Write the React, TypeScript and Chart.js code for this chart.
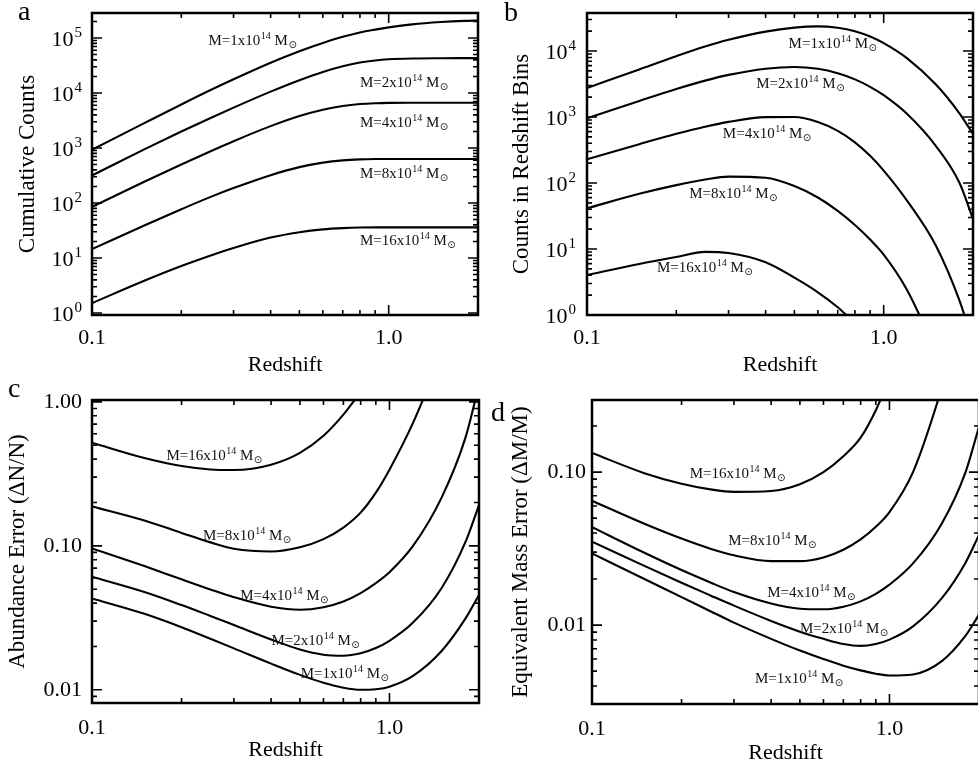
import React, { useEffect, useRef } from 'react';
import { Chart, registerables } from 'chart.js';

Chart.register(...registerables);

const SERIF = '"Liberation Serif", "Times New Roman", Times, serif';

// ---------- shared data ----------
const redshift = [0.1, 0.15, 0.2, 0.25, 0.3, 0.4, 0.5, 0.6, 0.7, 0.8, 0.9, 1.0, 1.2, 1.5, 1.8, 2.0];
const massFactors = ['1', '2', '4', '8', '16'];
const xTickValues = [0.1, 1.0];
const xTickLabels = ['0.1', '1.0'];

// ---------- panel a: cumulative counts ----------
const cumM1 = [930, 2830, 6190, 11200, 17800, 35600, 57700, 81500, 105000, 126000, 142000, 156000, 177000, 195000, 205000, 208000];
const cumM2 = [316, 944, 1995, 3480, 5420, 10590, 17100, 24200, 30700, 35800, 39100, 41000, 42400, 42900, 43000, 43000];
const cumM4 = [85, 244, 501, 865, 1330, 2500, 3820, 4980, 5810, 6300, 6520, 6610, 6640, 6640, 6640, 6640];
const cumM8 = [14.5, 39, 77, 128, 187, 321, 449, 543, 597, 621, 630, 632, 632, 632, 632, 632];
const cumM16 = [1.51, 3.85, 7.14, 11.0, 15.2, 23.5, 29.5, 33.2, 35.0, 35.8, 36, 36, 36, 36, 36, 36];
const cumYTicks = [1, 10, 100, 1000, 10000, 100000];
const cumYExponents = ['0', '1', '2', '3', '4', '5'];
const cumLabelZ = [0.247, 0.8, 0.8, 0.8, 0.8];
const cumLabelN = [92000, 15800, 2960, 351, 21];

// ---------- panel b: counts in redshift bins ----------
const binM1 = [2750, 5270, 8360, 11700, 14800, 19700, 22600, 23600, 22500, 20000, 16600, 13200, 7760, 3110, 1140, 557];
const binM2 = [955, 1750, 2660, 3560, 4350, 5400, 5740, 5380, 4610, 3720, 2870, 2140, 1110, 363, 101, 28.6];
const binM4 = [229, 388, 556, 714, 845, 995, 1000, 841, 618, 414, 258, 154, 53.6, 11.2, 1.66, 0.38];
const binM8 = [41.4, 68.7, 92.9, 113, 125, 120, 89.9, 60.3, 37.9, 23.1, 13.9, 8.22, 2.38, 0.285, null, null];
const binM16 = [4.04, 5.93, 7.57, 9.05, 8.7, 6.3, 3.68, 2.21, 1.31, 0.746, null, null, null, null, null, null];
const binYTicks = [1, 10, 100, 1000, 10000];
const binYExponents = ['0', '1', '2', '3', '4'];
const binLabelZ = [0.478, 0.372, 0.287, 0.221, 0.172];
const binLabelN = [13200, 3270, 573, 70.5, 5.34];

// ---------- panel c: abundance error ----------
const errM1 = [0.0431, 0.0337, 0.0272, 0.0226, 0.0194, 0.0152, 0.0127, 0.0112, 0.01035, 0.01, 0.0101, 0.01052, 0.0125, 0.0187, 0.0312, 0.0456];
const errM2 = [0.061, 0.0478, 0.0388, 0.0326, 0.0282, 0.0224, 0.01905, 0.01754, 0.01726, 0.01795, 0.0195, 0.0219, 0.0293, 0.0512, 0.106, 0.192];
const errM4 = [0.096, 0.0723, 0.0585, 0.0498, 0.044, 0.0378, 0.036, 0.0375, 0.0411, 0.047, 0.0551, 0.0656, 0.0998, 0.218, 0.562, 1.31];
const errM8 = [0.188, 0.15, 0.123, 0.1057, 0.0955, 0.0914, 0.0977, 0.1114, 0.134, 0.17, 0.234, 0.338, 0.714, 2.18, null, null];
const errM16 = [0.52, 0.407, 0.358, 0.339, 0.336, 0.366, 0.442, 0.581, 0.815, 1.17, null, null, null, null, null, null];
const errYTicks = [0.01, 0.1, 1];
const errYLabels = ['0.01', '0.10', '1.00'];
const errLabelZ = [0.503, 0.401, 0.315, 0.236, 0.178];
const errLabelN = [0.0131, 0.0222, 0.0457, 0.119, 0.428];

// ---------- panel d: equivalent mass error ----------
const dmM1 = [0.0294, 0.02, 0.01524, 0.01233, 0.01038, 0.00813, 0.00682, 0.006, 0.00543, 0.00506, 0.00481, 0.00468, 0.00476, 0.00582, 0.0085, 0.0117];
const dmM2 = [0.0351, 0.02438, 0.01892, 0.01563, 0.0134, 0.01064, 0.00906, 0.00813, 0.00752, 0.00731, 0.00753, 0.00804, 0.00982, 0.015, 0.0255, 0.0389];
const dmM4 = [0.0437, 0.0297, 0.0229, 0.019, 0.01644, 0.01384, 0.0128, 0.01268, 0.01318, 0.01429, 0.016, 0.01837, 0.0253, 0.0462, 0.0993, 0.198];
const dmM8 = [0.065, 0.046, 0.0368, 0.0316, 0.0286, 0.0262, 0.0262, 0.0277, 0.0311, 0.0363, 0.0439, 0.0548, 0.1, 0.355, 1.27, null];
const dmM16 = [0.1334, 0.0984, 0.0839, 0.0771, 0.0743, 0.0753, 0.0834, 0.1, 0.127, 0.168, 0.254, 0.409, null, null, null, null];
const dmYTicks = [0.01, 0.1];
const dmYLabels = ['0.01', '0.10'];
const dmLabelZ = [0.353, 0.5, 0.388, 0.287, 0.213];
const dmLabelN = [0.00451, 0.00955, 0.0164, 0.036, 0.0985];

type Spec = {
  id: string;
  letter: string;
  left: number; top: number; width: number; height: number;
  padTop: number; padRight: number;
  yWidth: number; xHeight: number;
  yMin: number; yMax: number;
  yTicks: number[];
  yExponents?: string[];
  yLabels?: string[];
  series: (number | null)[][];
  labelZ: number[]; labelN: number[];
  yTitle: string;
  yTitlePad: number; xTitlePad: number; yTickPad: number; xTickPad: number;
};

const panels: Spec[] = [
  {
    id: 'a', letter: 'a', left: 0, top: 0, width: 489, height: 385,
    padTop: 13, padRight: 11, yWidth: 92, xHeight: 70,
    yMin: 0.92, yMax: 285000, yTicks: cumYTicks, yExponents: cumYExponents,
    series: [cumM1, cumM2, cumM4, cumM8, cumM16], labelZ: cumLabelZ, labelN: cumLabelN,
    yTitle: 'Cumulative Counts', yTitlePad: 16.5, xTitlePad: 9, yTickPad: 10, xTickPad: 10,
  },
  {
    id: 'b', letter: 'b', left: 489, top: 0, width: 489, height: 385,
    padTop: 13, padRight: 5, yWidth: 98, xHeight: 70,
    yMin: 1, yMax: 37700, yTicks: binYTicks, yExponents: binYExponents,
    series: [binM1, binM2, binM4, binM8, binM16], labelZ: binLabelZ, labelN: binLabelN,
    yTitle: 'Counts in Redshift Bins', yTitlePad: 21.5, xTitlePad: 9, yTickPad: 11, xTickPad: 10,
  },
  {
    id: 'c', letter: 'c', left: 0, top: 385, width: 489, height: 384,
    padTop: 15, padRight: 10, yWidth: 92, xHeight: 66,
    yMin: 0.0081, yMax: 1.03, yTicks: errYTicks, yLabels: errYLabels,
    series: [errM1, errM2, errM4, errM8, errM16], labelZ: errLabelZ, labelN: errLabelN,
    yTitle: 'Abundance Error (\u0394N/N)', yTitlePad: 6.5, xTitlePad: 8, yTickPad: 10, xTickPad: 12,
  },
  {
    id: 'd', letter: 'd', left: 489, top: 385, width: 500, height: 384,
    padTop: 15, padRight: 10, yWidth: 103, xHeight: 65,
    yMin: 0.00305, yMax: 0.296, yTicks: dmYTicks, yLabels: dmYLabels,
    series: [dmM1, dmM2, dmM4, dmM8, dmM16], labelZ: dmLabelZ, labelN: dmLabelN,
    yTitle: 'Equivalent Mass Error (\u0394M/M)', yTitlePad: 20.5, xTitlePad: 5, yTickPad: 6, xTickPad: 12,
  },
];

function logMarks(min: number, max: number) {
  const out: { v: number; major: boolean }[] = [];
  for (let d = Math.floor(Math.log10(min)); d <= Math.ceil(Math.log10(max)); d++) {
    for (let k = 1; k <= 9; k++) {
      const v = k * Math.pow(10, d);
      if (v >= min * 0.9999 && v <= max * 1.0001) out.push({ v, major: k === 1 });
    }
  }
  return out;
}

const framePlugin = {
  id: 'idlFrame',
  afterDatasetsDraw(chart: any) {
    const { ctx, chartArea: ca, scales } = chart;
    const xs = scales.x;
    const ys = scales.y;
    ctx.save();
    ctx.strokeStyle = '#000';
    ctx.lineWidth = 1.6;
    ctx.beginPath();
    for (const m of logMarks(xs.min, xs.max)) {
      const px = xs.getPixelForValue(m.v);
      const len = m.major ? 10 : 5;
      ctx.moveTo(px, ca.bottom); ctx.lineTo(px, ca.bottom - len);
      ctx.moveTo(px, ca.top); ctx.lineTo(px, ca.top + len);
    }
    for (const m of logMarks(ys.min, ys.max)) {
      const py = ys.getPixelForValue(m.v);
      const len = m.major ? 10 : 5;
      ctx.moveTo(ca.left, py); ctx.lineTo(ca.left + len, py);
      ctx.moveTo(ca.right, py); ctx.lineTo(ca.right - len, py);
    }
    ctx.stroke();
    ctx.lineWidth = 2.5;
    ctx.strokeRect(ca.left, ca.top, ca.right - ca.left, ca.bottom - ca.top);
    ctx.restore();
  },
};

function makeSupTickPlugin(values: number[], exps: string[], pad: number) {
  return {
    id: 'supTicks',
    afterDraw(chart: any) {
      const { ctx, chartArea: ca, scales } = chart;
      const y = scales.y;
      ctx.save();
      ctx.fillStyle = '#000';
      ctx.textBaseline = 'alphabetic';
      ctx.textAlign = 'left';
      values.forEach((v, i) => {
        const py = y.getPixelForValue(v);
        ctx.font = `15px ${SERIF}`;
        const we = ctx.measureText(exps[i]).width;
        ctx.font = `22px ${SERIF}`;
        const wb = ctx.measureText('10').width;
        const x0 = ca.left - pad - we - wb - 1;
        ctx.fillText('10', x0, py + 7.5);
        ctx.font = `15px ${SERIF}`;
        ctx.fillText(exps[i], x0 + wb + 1, py - 1.5);
      });
      ctx.restore();
    },
  };
}

function makeMassLabelPlugin(zs: number[], ns: number[]) {
  return {
    id: 'massLabels',
    afterDatasetsDraw(chart: any) {
      const { ctx, scales } = chart;
      const xs = scales.x;
      const ys = scales.y;
      ctx.save();
      ctx.fillStyle = '#111';
      ctx.textAlign = 'left';
      ctx.textBaseline = 'alphabetic';
      zs.forEach((z, i) => {
        let px = xs.getPixelForValue(z);
        const base = ys.getPixelForValue(ns[i]) + 5;
        ctx.font = `15px ${SERIF}`;
        const main = `M=${massFactors[i]}x10`;
        ctx.fillText(main, px, base);
        px += ctx.measureText(main).width + 0.5;
        ctx.font = `10px ${SERIF}`;
        ctx.fillText('14', px, base - 6);
        px += ctx.measureText('14').width;
        ctx.font = `15px ${SERIF}`;
        ctx.fillText(' M', px, base);
        px += ctx.measureText(' M').width + 0.5;
        ctx.font = `10px "DejaVu Sans", ${SERIF}`;
        ctx.fillText('\u2299', px, base + 3);
      });
      ctx.restore();
    },
  };
}

function buildConfig(spec: Spec): any {
  const datasets = spec.series.map((vals, i) => ({
    label: `M=${massFactors[i]}x10^14`,
    data: redshift
      .map((z, j) => ({ x: z, y: vals[j] }))
      .filter((p) => p.y !== null && p.y !== undefined),
    borderColor: '#000',
    borderWidth: 2.1,
    pointRadius: 0,
    pointHoverRadius: 0,
    cubicInterpolationMode: 'monotone',
    fill: false,
  }));
  const titleFont = { family: SERIF, size: 22, lineHeight: 1 };
  const yTitleFont = { family: SERIF, size: 23, lineHeight: 1 };
  const tickFont = { family: SERIF, size: 22 };
  const plugins: any[] = [framePlugin, makeMassLabelPlugin(spec.labelZ, spec.labelN)];
  if (spec.yExponents) plugins.push(makeSupTickPlugin(spec.yTicks, spec.yExponents, spec.yTickPad));
  return {
    type: 'line',
    data: { datasets },
    options: {
      responsive: false,
      animation: false,
      devicePixelRatio: 1,
      events: [],
      layout: { padding: { left: 0, top: spec.padTop, right: spec.padRight, bottom: 0 } },
      plugins: { legend: { display: false }, tooltip: { enabled: false } },
      scales: {
        x: {
          type: 'logarithmic',
          min: 0.1,
          max: 2.0,
          afterBuildTicks: (s: any) => { s.ticks = xTickValues.map((v) => ({ value: v })); },
          afterFit: (s: any) => { s.height = spec.xHeight; s.paddingLeft = 0; s.paddingRight = 0; },
          grid: { display: false, drawTicks: false },
          border: { display: false },
          ticks: {
            autoSkip: false, maxRotation: 0, padding: spec.xTickPad, color: '#000', font: tickFont,
            callback: (_v: any, i: number) => xTickLabels[i],
          },
          title: { display: true, text: 'Redshift', color: '#000', font: titleFont, padding: { top: 0, bottom: spec.xTitlePad } },
        },
        y: {
          type: 'logarithmic',
          min: spec.yMin,
          max: spec.yMax,
          afterBuildTicks: (s: any) => { s.ticks = spec.yTicks.map((v) => ({ value: v })); },
          afterFit: (s: any) => { s.width = spec.yWidth; s.paddingTop = 0; s.paddingBottom = 0; },
          grid: { display: false, drawTicks: false },
          border: { display: false },
          ticks: {
            display: !spec.yExponents,
            autoSkip: false, padding: spec.yTickPad, color: '#000', font: tickFont,
            callback: (_v: any, i: number) => (spec.yLabels ? spec.yLabels[i] : ''),
          },
          title: { display: true, text: spec.yTitle, color: '#000', font: yTitleFont, padding: { top: spec.yTitlePad, bottom: 0 } },
        },
      },
    },
    plugins,
  };
}

function Panel({ spec }: { spec: Spec }) {
  const ref = useRef<HTMLCanvasElement>(null);
  useEffect(() => {
    const chart = new Chart(ref.current as HTMLCanvasElement, buildConfig(spec));
    return () => chart.destroy();
  }, [spec]);
  return (
    <canvas
      ref={ref}
      width={spec.width}
      height={spec.height}
      style={{ position: 'absolute', left: spec.left, top: spec.top, width: spec.width, height: spec.height }}
    />
  );
}

const letterPos: Record<string, [number, number]> = {
  a: [18, -3.5],
  b: [504, -2],
  c: [8, 373.5],
  d: [491, 397.5],
};

export default function App() {
  return (
    <div
      style={{
        position: 'absolute', left: 0, top: 0, width: 978, height: 769,
        overflow: 'hidden', background: '#fff', fontFamily: SERIF,
      }}
    >
      {panels.map((p) => (
        <Panel key={p.id} spec={p} />
      ))}
      {panels.map((p) => (
        <span
          key={'l' + p.id}
          style={{
            position: 'absolute', left: letterPos[p.letter][0], top: letterPos[p.letter][1],
            fontSize: 28, lineHeight: '28px', color: '#000',
          }}
        >
          {p.letter}
        </span>
      ))}
    </div>
  );
}
